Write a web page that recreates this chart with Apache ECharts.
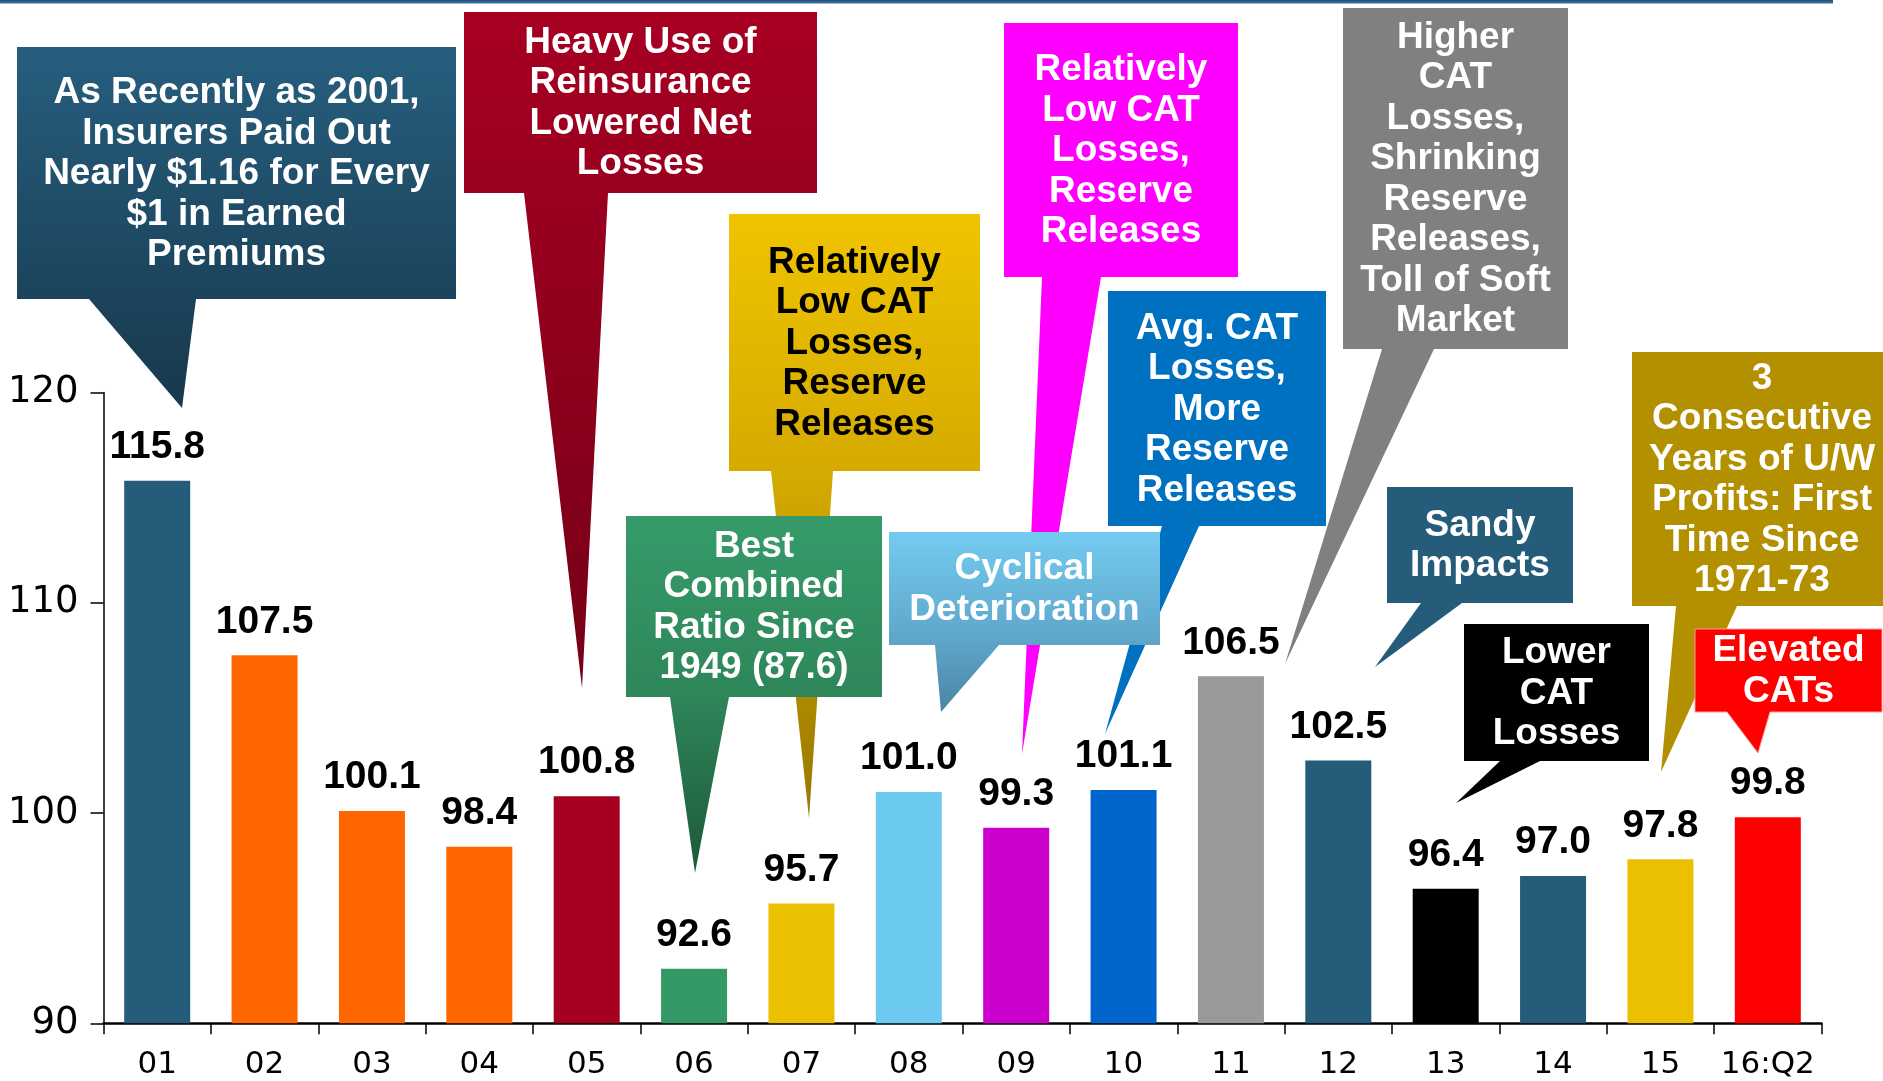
<!DOCTYPE html>
<html>
<head>
<meta charset="utf-8">
<title>P/C Insurance Industry Combined Ratio, 2001–2016:Q2</title>
<script src="https://cdn.jsdelivr.net/npm/echarts@6/dist/echarts.min.js"></script>
<style>
  html, body { margin: 0; padding: 0; background: #ffffff; }
  #chart { width: 1883px; height: 1081px; }
</style>
</head>
<body>
<div id="chart"></div>
<script>
// Combined ratio by year (01 = 2001 ... 16:Q2 = first half of 2016)
const categories = ['01', '02', '03', '04', '05', '06', '07', '08', '09', '10', '11', '12', '13', '14', '15', '16:Q2'];
const combinedRatio = [115.8, 107.5, 100.1, 98.4, 100.8, 92.6, 95.7, 101.0, 99.3, 101.1, 106.5, 102.5, 96.4, 97.0, 97.8, 99.8];
const yAxisMin = 90;
const yAxisMax = 120;
const yAxisStep = 10;

// One colour per bar
const barColors = ['#245C7A', '#FF6600', '#FF6600', '#FF6600', '#A50021', '#339966', '#EBC000', '#6CC9EF',
                   '#CC00CC', '#0066CC', '#999999', '#245C7A', '#000000', '#245C7A', '#EBC000', '#FF0000'];

// Callout texts, one entry per callout
const calloutTexts = [
  ['As Recently as 2001,', 'Insurers Paid Out', 'Nearly $1.16 for Every', '$1 in Earned', 'Premiums'],
  ['Heavy Use of', 'Reinsurance', 'Lowered Net', 'Losses'],
  ['Relatively', 'Low CAT', 'Losses,', 'Reserve', 'Releases'],
  ['Best', 'Combined', 'Ratio Since', '1949 (87.6)'],
  ['Relatively', 'Low CAT', 'Losses,', 'Reserve', 'Releases'],
  ['Avg. CAT', 'Losses,', 'More', 'Reserve', 'Releases'],
  ['Cyclical', 'Deterioration'],
  ['Higher', 'CAT', 'Losses,', 'Shrinking', 'Reserve', 'Releases,', 'Toll of Soft', 'Market'],
  ['Sandy', 'Impacts'],
  ['Lower', 'CAT', 'Losses'],
  ['3', 'Consecutive', 'Years of U/W', 'Profits: First', 'Time Since', '1971-73'],
  ['Elevated', 'CATs']
];

const LG = (stops) => new echarts.graphic.LinearGradient(0, 0, 0, 1,
  stops.map((c, i) => ({ offset: Array.isArray(c) ? c[0] : i / (stops.length - 1), color: Array.isArray(c) ? c[1] : c })));

// Callout layout: box [x1, y1, x2, y2], pointer [baseLeft, baseRight, tipX, tipY], fill, text colour.
// Listed in drawing order so later boxes sit over earlier pointers.
const calloutLayout = [
  { box: [17, 47, 456, 299],    ptr: [89, 196, 182, 408],    fill: LG(['#265E7E', '#17384C']), text: '#ffffff' },
  { box: [464, 12, 817, 193],   ptr: [524, 608, 582, 688],   fill: LG(['#A70022', '#760017']), text: '#ffffff' },
  { box: [729, 214, 980, 471],  ptr: [771, 833, 809, 818],   fill: LG([[0, '#F0C400'], [0.43, '#D5AA00'], [1, '#977800']]), text: '#000000' },
  { box: [626, 516, 882, 697],  ptr: [670, 729, 695, 873],   fill: LG([[0, '#369B6A'], [0.5, '#2E8659'], [1, '#1D593A']]), text: '#ffffff' },
  { box: [1004, 23, 1238, 277], ptr: [1042, 1101, 1022, 754], fill: '#FF00FF', text: '#ffffff' },
  { box: [1108, 291, 1326, 526], ptr: [1162, 1199, 1105, 734], fill: '#0070C0', text: '#ffffff' },
  { box: [889, 532, 1160, 645], ptr: [935, 999, 941, 712],   fill: LG([[0, '#74CBF0'], [0.6, '#5EA6CA'], [1, '#4A84A4']]), text: '#ffffff' },
  { box: [1343, 8, 1568, 349],  ptr: [1382, 1434, 1285, 664], fill: '#808080', text: '#ffffff' },
  { box: [1387, 487, 1573, 603], ptr: [1421, 1462, 1375, 667], fill: '#245C7A', text: '#ffffff' },
  { box: [1464, 624, 1649, 761], ptr: [1500, 1540, 1456, 803], fill: '#000000', text: '#ffffff' },
  { box: [1632, 352, 1892, 606], ptr: [1676, 1737, 1661, 772], fill: '#B39000', text: '#ffffff' },
  { box: [1695, 629, 1882, 712], ptr: [1727, 1770, 1758, 753], fill: '#FF0000', text: '#ffffff', stroke: '#FF9A9A' }
];

const FONT = '"Liberation Sans", Arial, Helvetica, sans-serif';
const AXIS_FONT = '"DejaVu Sans", Verdana, sans-serif';

function calloutGraphics() {
  const els = [];
  calloutLayout.forEach((c, i) => {
    const [x1, y1, x2, y2] = c.box;
    const [bl, br, tx, ty] = c.ptr;
    els.push({
      type: 'polygon',
      silent: true,
      z: 10 + i * 2,
      shape: { points: [[x1, y1], [x2, y1], [x2, y2], [br, y2], [tx, ty], [bl, y2], [x1, y2]] },
      style: { fill: c.fill, stroke: c.stroke || null, lineWidth: c.stroke ? 1 : 0 }
    });
    els.push({
      type: 'text',
      silent: true,
      z: 11 + i * 2,
      x: (x1 + x2) / 2,
      y: (y1 + y2) / 2 + 1,
      style: {
        text: calloutTexts[i].join('\n'),
        fill: c.text,
        fontFamily: FONT,
        fontWeight: 'bold',
        fontSize: 37,
        lineHeight: 40.5,
        align: 'center',
        verticalAlign: 'middle'
      }
    });
  });
  return els;
}

const chart = echarts.init(document.getElementById('chart'), null, { renderer: 'canvas' });

chart.setOption({
  animation: false,
  backgroundColor: '#ffffff',
  grid: { left: 103.5, right: 61.5, top: 392.5, bottom: 57.7 },
  xAxis: {
    type: 'category',
    data: categories,
    boundaryGap: true,
    axisLine: { lineStyle: { color: '#000000', width: 2.5 } },
    axisTick: { show: true, length: 11, alignWithLabel: false, lineStyle: { color: '#000000', width: 1.5 } },
    axisLabel: { color: '#000000', fontFamily: AXIS_FONT, fontSize: 31, margin: 26, interval: 0 },
    splitLine: { show: false }
  },
  yAxis: {
    type: 'value',
    min: yAxisMin,
    max: yAxisMax,
    interval: yAxisStep,
    axisLine: { show: true, lineStyle: { color: '#000000', width: 1.5 } },
    axisTick: { show: true, length: 13, lineStyle: { color: '#000000', width: 1.5 } },
    axisLabel: { color: '#000000', fontFamily: AXIS_FONT, fontSize: 37, margin: 25 },
    splitLine: { show: false }
  },
  series: [{
    type: 'bar',
    barWidth: 66,
    data: combinedRatio.map((v, i) => ({ value: v, itemStyle: { color: barColors[i] } })),
    label: {
      show: true,
      position: 'top',
      distance: 14,
      color: '#000000',
      fontFamily: FONT,
      fontWeight: 'bold',
      fontSize: 39,
      formatter: (p) => p.value.toFixed(1)
    },
    z: 2
  }],
  graphic: [
    // thin rule along the top edge
    {
      type: 'rect', silent: true, z: 5,
      shape: { x: 0, y: 0, width: 1833, height: 3.5 },
      style: { fill: LG(['#1E4C78', '#3F72A4']) }
    }
  ].concat(calloutGraphics())
});
</script>
</body>
</html>
